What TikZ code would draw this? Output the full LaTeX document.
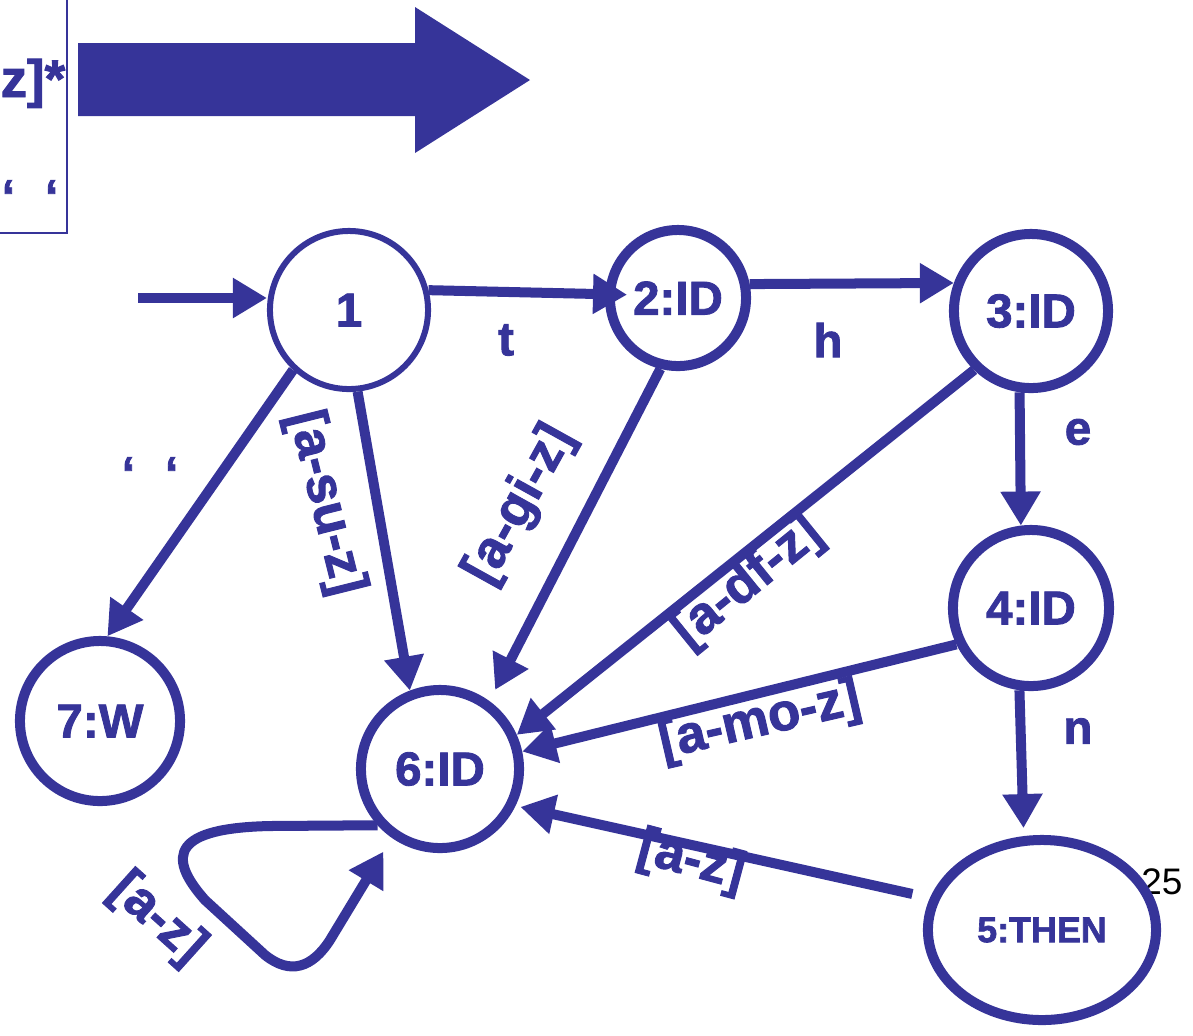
\documentclass[tikz,border=0pt]{standalone}
\usepackage{fontspec}
\setmainfont{Liberation Sans}[BoldFeatures={FakeBold=1.8}]
\usetikzlibrary{arrows.meta,shapes.geometric}
\definecolor{dfablue}{RGB}{54,52,153}

\begin{document}
\begin{tikzpicture}[x=0.01cm,y=-0.01cm,
    state/.style={circle,draw=dfablue,line width=1mm,inner sep=0pt,
      text=dfablue,font=\fontsize{13.5}{16}\selectfont\bfseries},
    edge/.style={draw=dfablue,line width=1mm,-{Triangle[length=3.4mm,width=3.8mm]}},
    lbl/.style={text=dfablue,inner sep=0pt,font=\fontsize{13.5}{16}\selectfont\bfseries},
    cls/.style={text=dfablue,inner sep=0pt,font=\fontsize{15}{18}\selectfont\bfseries}]
    \useasboundingbox (0,0) rectangle (1193,1035);

    % left-over of the regex box and the big arrow
    \draw [dfablue, line width=0.2mm] (67,0) -- (67,233) -- (0,233);
    \node [cls, anchor=base west] (rx) at (0,97) {z]*};
    \node [lbl, anchor=base] (sp) at (30,213) {‘\hspace{3mm}‘};
    \fill [dfablue] (78,43) -- (415,43) -- (415,7) -- (530,80) -- (415,153)
      -- (415,116) -- (78,116) -- cycle;

    \node [font=\fontsize{10.5}{12}\selectfont, inner sep=0pt] (pg) at (1162,882) {25};

    % states
    \node [state, line width=0.6mm, minimum size=1.58cm] (n1) at (349,310) {1};
    \node [state, minimum size=1.36cm] (n2) at (678,298) {2:ID};
    \node [state, minimum size=1.54cm] (n3) at (1031,311) {3:ID};
    \node [state, minimum size=1.56cm] (n4) at (1031,608) {4:ID};
    \node [state, ellipse, minimum width=2.28cm, minimum height=1.8cm,
      font=\fontsize{10.2}{12}\selectfont\bfseries] (n5) at (1042,930) {5:THEN};
    \node [state, minimum size=1.58cm] (n6) at (440,769) {6:ID};
    \node [state, minimum size=1.6cm] (n7) at (100,721) {7:W};

    \coordinate (init) at (138,298);

    % transitions
    \draw [edge] (init) -- (init -| n1.west);
    \draw [edge, shorten >=-0.22cm] (n1.14) -- (n2.177);
    \draw [edge] (n2.11) -- (n3.160);
    \draw [edge] (n3.262) -- (n4.97);
    \draw [edge, shorten >=0.08cm] (n4.262) -- (n5.101);
    \draw [edge] (n1.227) -- (n7.85);
    \draw [edge] (n1.276) -- (n6.111);
    \draw [edge, shorten >=0.125cm] (n2.256) -- (n6.54);
    \draw [edge] (n3.226) -- (n6.24);
    \draw [edge] (n4.206) -- (n6.12);
    \draw [edge, shorten <=0.18cm, shorten >=0.05cm] (n5.164) -- (n6.334);
    \draw [edge, shorten >=0.16cm] (n6.222) -- (270,826)
      .. controls (175,828) and (165,855) .. (205,900) -- (265,955)
      .. controls (290,975) and (312,968) .. (330,940) -- (n6.235);

    % labels
    \node [lbl] (lt) at (506,340) {t};
    \node [lbl] (lh) at (828,340) {h};
    \node [lbl] (le) at (1078,432) {e};
    \node [lbl] (ln) at (1078,731) {n};
    \node [lbl, anchor=base] (lsp) at (150,490) {‘\hspace{3mm}‘};
    \node [cls, rotate=-76] (l16) at (325,503) {[a-su-z]};
    \node [cls, rotate=61] (l26) at (520,505) {[a-gi-z]};
    \node [cls, rotate=39] (l36) at (748,583) {[a-df-z]};
    \node [cls, rotate=13] (l46) at (760,722) {[a-mo-z]};
    \node [cls, rotate=-15] (l56) at (691,862) {[a-z]};
    \node [cls, rotate=-42] (l66) at (157,919) {[a-z]};
\end{tikzpicture}
\end{document}
